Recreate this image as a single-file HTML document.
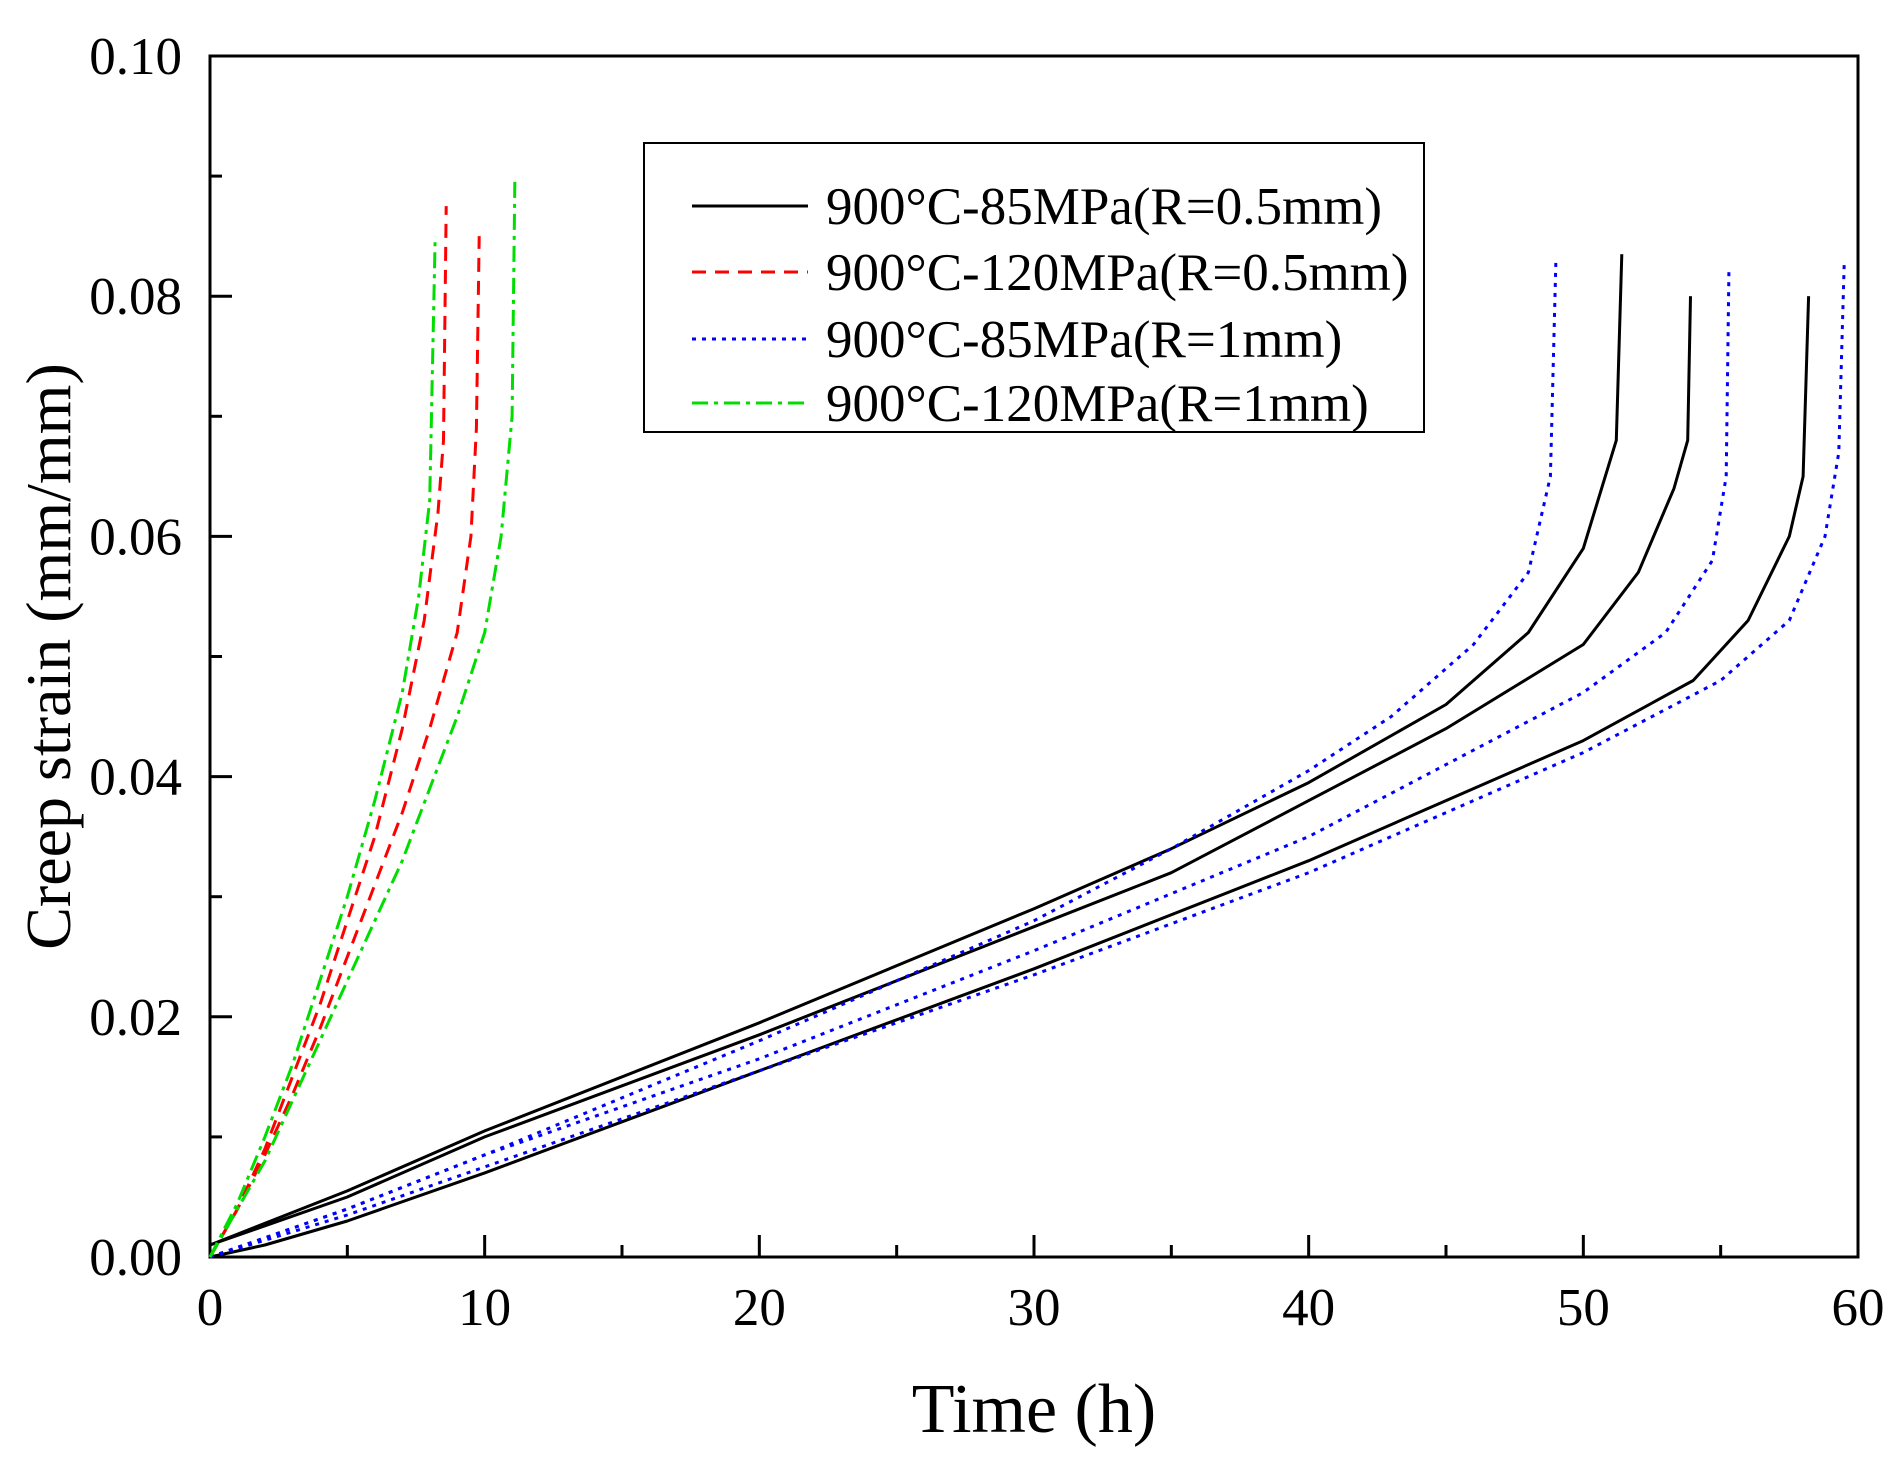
<!DOCTYPE html>
<html><head><meta charset="utf-8"><style>
body{margin:0;background:#fff}
svg{display:block;font-family:"Liberation Serif",serif}
</style></head><body>
<svg id="chart" width="1896" height="1462" viewBox="0 0 1896 1462" xmlns="http://www.w3.org/2000/svg">
<g id="plot"></g>
</svg>
<script>
const xTicks=[0,10,20,30,40,50,60];
const yTicks=[0,0.02,0.04,0.06,0.08,0.10];
const yTickLabels=["0.00","0.02","0.04","0.06","0.08","0.10"];
const b1T=[0,5,10,20,30,35,40,45,48,50,51.2,51.4];
const b1S=[0.001,0.0055,0.0105,0.0195,0.029,0.034,0.0395,0.046,0.052,0.059,0.068,0.0835];
const b2T=[0,5,10,20,30,35,40,45,50,52,53.3,53.8,53.9];
const b2S=[0.001,0.005,0.01,0.0185,0.0275,0.032,0.038,0.044,0.051,0.057,0.064,0.068,0.080];
const b3T=[0,2,5,10,20,30,40,45,50,54,56,57.5,58,58.2];
const b3S=[0,0.001,0.003,0.007,0.0155,0.024,0.033,0.038,0.043,0.048,0.053,0.06,0.065,0.080];
const d1T=[0,5,10,20,30,35,40,43,46,48,48.8,49];
const d1S=[0,0.004,0.0085,0.018,0.028,0.034,0.0405,0.045,0.051,0.057,0.065,0.083];
const d2T=[0,5,10,20,30,40,45,50,53,54.7,55.2,55.3];
const d2S=[0,0.004,0.0085,0.0165,0.0255,0.035,0.041,0.047,0.052,0.058,0.065,0.082];
const d3T=[0,5,10,20,30,40,45,50,55,57.5,58.8,59.3,59.5];
const d3S=[0,0.0035,0.0075,0.0155,0.0235,0.032,0.037,0.042,0.048,0.053,0.06,0.067,0.083];
const r1T=[0,1,2,3,4,5,6,7,7.8,8.3,8.5,8.6];
const r1S=[0,0.004,0.009,0.015,0.021,0.028,0.035,0.044,0.053,0.062,0.068,0.0875];
const r2T=[0,1,2,3,4,5,6,7,8,9,9.5,9.7,9.8];
const r2S=[0,0.004,0.0085,0.0135,0.019,0.025,0.031,0.037,0.044,0.052,0.06,0.069,0.085];
const g1T=[0,1,2,3,4,5,6,7,7.6,8,8.2];
const g1S=[0,0.0045,0.01,0.016,0.023,0.03,0.038,0.047,0.055,0.063,0.085];
const g2T=[0,1,2,3,4,5,6,7,8,9,10,10.6,11,11.1];
const g2S=[0,0.004,0.008,0.013,0.018,0.023,0.028,0.033,0.039,0.045,0.052,0.06,0.07,0.09];

const X0=210,X1=1858,Y0=1257,Y1=56;
const xs=t=>X0+(t-0)/(60-0)*(X1-X0);
const ys=v=>Y0-(v-0)/(0.10-0)*(Y0-Y1);
const NS="http://www.w3.org/2000/svg";
const g=document.getElementById('plot');
function mk(tag,attrs){const e=document.createElementNS(NS,tag);for(const k in attrs)e.setAttribute(k,attrs[k]);g.appendChild(e);return e;}

let fr=mk('rect',{x:X0,y:Y1,width:X1-X0,height:Y0-Y1,fill:'none',stroke:'#000','stroke-width':3});



for(let t=0;t<=60;t+=5){
  const major=t%10===0;
  let tk=mk('line',{x1:xs(t),x2:xs(t),y1:Y0,y2:Y0-(major?22:12),stroke:'#000','stroke-width':3});
  
  
}
xTicks.forEach(t=>{
  let tx=mk('text',{x:xs(t),y:Y0+68,'font-size':53,'text-anchor':'middle'});
  tx.textContent=t;
  
  
});
for(let i=0;i<=10;i++){
  const v=i*0.01,major=i%2===0;
  let tk=mk('line',{x1:X0,x2:X0+(major?22:12),y1:ys(v),y2:ys(v),stroke:'#000','stroke-width':3});
  
  
}
yTicks.forEach((v,i)=>{
  let tx=mk('text',{x:X0-28,y:ys(v)+18,'font-size':53,'text-anchor':'end'});
  tx.textContent=yTickLabels[i];
  
  
});
let xt=mk('text',{x:(X0+X1)/2,y:1432,'font-size':70,'text-anchor':'middle'});
xt.textContent='Time  (h)';


let yt=mk('text',{x:0,y:0,'font-size':64,'text-anchor':'middle',transform:`translate(70,${(Y0+Y1)/2}) rotate(-90)`});
yt.textContent='Creep strain (mm/mm)';



const styles={
 black:{stroke:'#000',dash:''},
 red:{stroke:'#ff0000',dash:'14 9'},
 blue:{stroke:'#0000ff',dash:'4 6'},
 green:{stroke:'#00dd00',dash:'16 6 4 6'}
};
function series(T,S,st,name){
  const d=T.map((t,i)=>(i?'L':'M')+xs(t).toFixed(1)+' '+ys(S[i]).toFixed(1)).join(' ');
  let p=mk('path',{d:d,fill:'none',stroke:styles[st].stroke,'stroke-width':3,'stroke-dasharray':styles[st].dash,'stroke-linejoin':'round'});
  
  
}
series(b1T,b1S,'black','series-85mpa-r05-a');
series(b2T,b2S,'black','series-85mpa-r05-b');
series(b3T,b3S,'black','series-85mpa-r05-c');
series(d1T,d1S,'blue','series-85mpa-r1-a');
series(d2T,d2S,'blue','series-85mpa-r1-b');
series(d3T,d3S,'blue','series-85mpa-r1-c');
series(r1T,r1S,'red','series-120mpa-r05-a');
series(r2T,r2S,'red','series-120mpa-r05-b');
series(g1T,g1S,'green','series-120mpa-r1-a');
series(g2T,g2S,'green','series-120mpa-r1-b');

let lb=mk('rect',{x:644,y:143,width:780,height:289,fill:'#fff',stroke:'#000','stroke-width':2});


const legNames=['900°C-85MPa(R=0.5mm)','900°C-120MPa(R=0.5mm)','900°C-85MPa(R=1mm)','900°C-120MPa(R=1mm)'];
const legStyles=['black','red','blue','green'];
const legY=[206,272,339,403];
legNames.forEach((n,i)=>{
  let l=mk('line',{x1:692,x2:808,y1:legY[i],y2:legY[i],stroke:styles[legStyles[i]].stroke,'stroke-width':3,'stroke-dasharray':styles[legStyles[i]].dash});
  
  
  let t=mk('text',{x:826,y:legY[i]+18,'font-size':53});
  t.textContent=n;
  
  
});
</script>
</body></html>
